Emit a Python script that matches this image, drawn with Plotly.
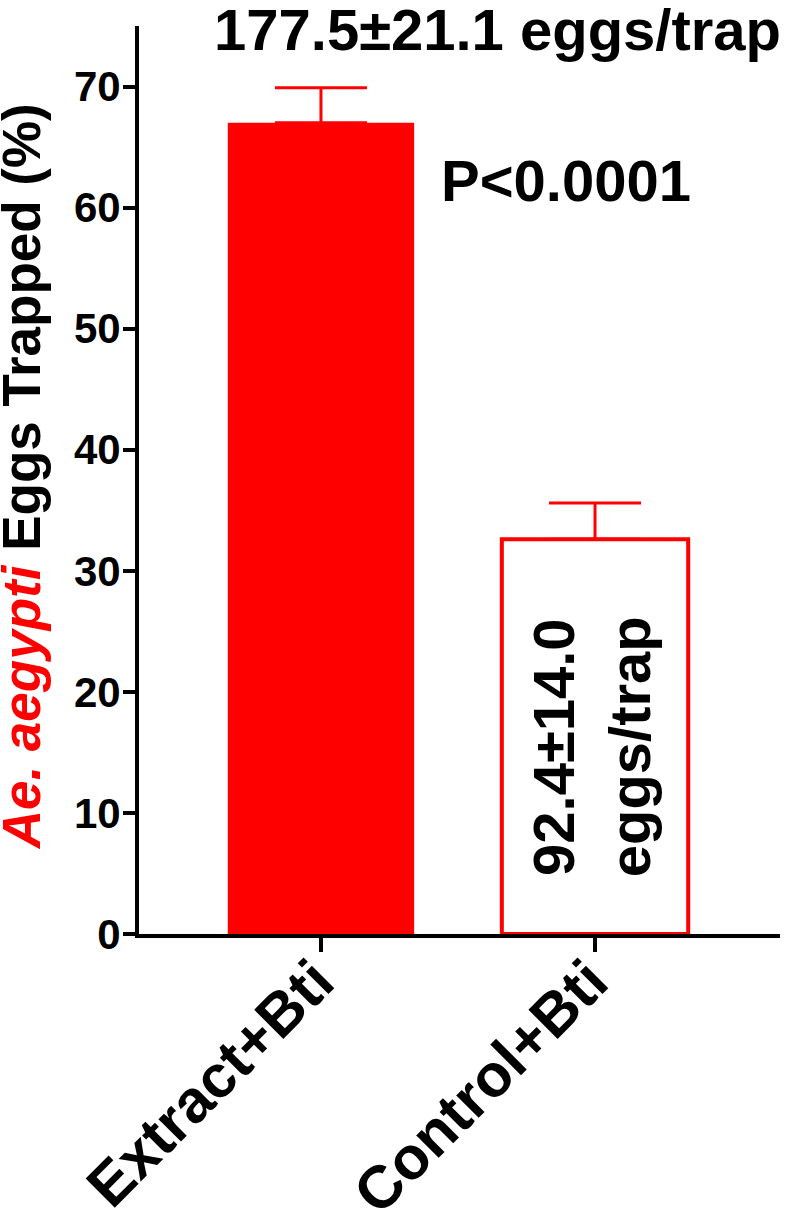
import plotly.graph_objects as go

# данные
groups = ['Extract+Bti', 'Control+Bti']
pct_trapped = [67.0, 32.6]
pct_sem = [2.9, 3.0]
eggs_label_extract = '177.5±21.1 eggs/trap'
eggs_label_control = ['92.4±14.0', 'eggs/trap']
p_label = 'P<0.0001'
y_ticks = [0, 10, 20, 30, 40, 50, 60, 70]

RED = '#FF0000'
FONT = 'Liberation Sans, Arial, Helvetica, sans-serif'

fig = go.Figure()

fig.add_trace(go.Bar(
    x=groups,
    y=pct_trapped,
    width=0.68,
    marker=dict(
        color=[RED, 'white'],
        line=dict(color=RED, width=[0, 4])
    ),
    error_y=dict(
        type='data',
        symmetric=False,
        array=pct_sem,
        arrayminus=[0, 0],
        color=RED,
        thickness=3,
        width=46
    )
))

# подписи
fig.add_annotation(
    text=eggs_label_extract, xref='paper', yref='paper',
    x=0.56, y=0.996, xanchor='center', yanchor='middle', showarrow=False,
    font=dict(family=FONT, size=58, color='black', weight='bold')
)
fig.add_annotation(
    text=p_label, xref='paper', yref='paper',
    x=0.666, y=0.83, xanchor='center', yanchor='middle', showarrow=False,
    font=dict(family=FONT, size=58, color='black', weight='bold')
)
for txt, xp in zip(eggs_label_control, [0.6475, 0.7665]):
    fig.add_annotation(
        text=txt, xref='paper', yref='paper',
        x=xp, y=0.206, xanchor='center', yanchor='middle', showarrow=False,
        textangle=-90,
        font=dict(family=FONT, size=58, color='black', weight='bold')
    )
fig.add_annotation(
    text='<span style="color:#FF0000"><i>Ae. aegypti</i></span> Eggs Trapped (%)',
    xref='paper', yref='paper',
    x=-0.184, y=0.503, xanchor='center', yanchor='middle', showarrow=False,
    textangle=-90,
    font=dict(family=FONT, size=53, color='black', weight='bold')
)

fig.update_layout(
    width=791,
    height=1217,
    margin=dict(l=139, r=11, t=26, b=283),
    paper_bgcolor='white',
    plot_bgcolor='white',
    showlegend=False,
    xaxis=dict(
        range=[-0.664, 1.675],
        automargin=False,
        showline=True, linecolor='black', linewidth=4,
        ticks='outside', ticklen=14, tickwidth=4, tickcolor='black',
        tickangle=-45,
        ticklabelstandoff=-30,
        ticklabelshift=-5,
        tickfont=dict(family=FONT, size=60, color='black', weight='bold'),
        showgrid=False, zeroline=False
    ),
    yaxis=dict(
        range=[0, 75],
        automargin=False,
        tickvals=y_ticks,
        showline=True, linecolor='black', linewidth=4,
        ticks='outside', ticklen=12, tickwidth=4, tickcolor='black',
        ticklabelstandoff=-6,
        tickfont=dict(family=FONT, size=42, color='black', weight='bold'),
        showgrid=False, zeroline=False
    )
)

fig.write_html(
    "out.html",
    config={'displayModeBar': False},
    post_script="document.body.style.margin='0px';"
)
